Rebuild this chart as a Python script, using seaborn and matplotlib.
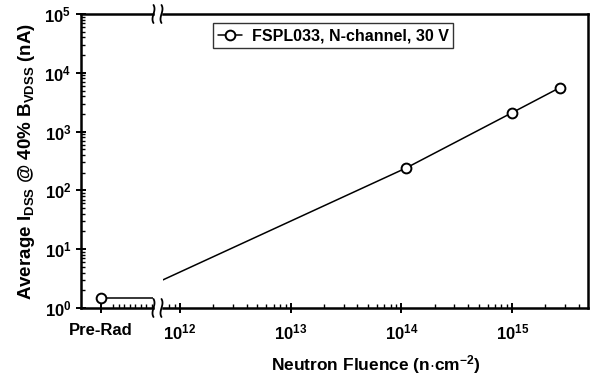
import numpy as np
import pandas as pd
import matplotlib
matplotlib.use("Agg")
import matplotlib.pyplot as plt
import matplotlib.ticker as mticker
import seaborn as sns

# data
pre_rad_value = 1.5
fluence = [7.0e11, 1.1e14, 1.0e15, 2.7e15]
idss = [3.0, 240, 2100, 5600]
measured = [False, True, True, True]
label = "FSPL033, N-channel, 30 V"

sns.set_style("ticks")
plt.rcParams["font.family"] = ["Liberation Sans", "DejaVu Sans"]
plt.rcParams["font.weight"] = "bold"
plt.rcParams["axes.labelweight"] = "bold"
plt.rcParams["text.color"] = "black"
plt.rcParams["axes.labelcolor"] = "black"
plt.rcParams["xtick.color"] = "black"
plt.rcParams["ytick.color"] = "black"
plt.rcParams["axes.edgecolor"] = "black"
plt.rcParams["mathtext.fontset"] = "custom"
plt.rcParams["mathtext.rm"] = "Liberation Sans:bold"
plt.rcParams["mathtext.it"] = "Liberation Sans:bold"
plt.rcParams["mathtext.bf"] = "Liberation Sans:bold"
plt.rcParams["mathtext.default"] = "bf"

df = pd.DataFrame({"fluence": fluence, "idss": idss, "measured": measured})
pts = df[df["measured"]]

fig = plt.figure(figsize=(5.92, 3.80), dpi=100)
ax0 = fig.add_axes([81 / 592, 1 - 308 / 380, 72 / 592, 294 / 380])
ax1 = fig.add_axes([163 / 592, 1 - 308 / 380, 425 / 592, 294 / 380])

# left panel: pre-rad
pre = pd.DataFrame({"x": [0, 0.52], "y": [pre_rad_value, pre_rad_value]})
sns.lineplot(data=pre, x="x", y="y", ax=ax0, color="black", lw=1.1)
ax0.plot([0], [pre_rad_value], "o", mfc="white", mec="black", mew=1.4, ms=7, zorder=3)
ax0.set_xlim(-0.2, 0.52)
ax0.set_yscale("log")
ax0.set_ylim(1, 1e5)
ax0.set_xticks([0])
ax0.set_xticklabels(["Pre-Rad"])
ax0.xaxis.set_minor_locator(mticker.FixedLocator(np.arange(0.12, 0.52, 0.055)))
ax0.spines["right"].set_visible(False)
ax0.set_ylabel(r"Average I$_{\rm DSS}$ @ 40% B$_{\rm VDSS}$ (nA)", fontsize=13.5,
               fontweight="bold", labelpad=5)
ax0.yaxis.set_major_locator(mticker.LogLocator(base=10, numticks=10))
ax0.yaxis.set_minor_locator(mticker.LogLocator(base=10, subs=np.arange(2, 10), numticks=10))
ax0.yaxis.set_minor_formatter(mticker.NullFormatter())

# right panel: fluence
sns.lineplot(data=df, x="fluence", y="idss", ax=ax1, color="black", lw=1.1)
sns.scatterplot(data=pts, x="fluence", y="idss", ax=ax1, marker="o", s=50,
                facecolor="white", edgecolor="black", linewidth=1.4, zorder=3)
ax1.set_xscale("log")
ax1.set_yscale("log")
ax1.set_xlim(7.03e11, 4.84e15)
ax1.set_ylim(1, 1e5)
ax1.xaxis.set_major_locator(mticker.LogLocator(base=10, numticks=10))
ax1.xaxis.set_minor_locator(mticker.LogLocator(base=10, subs=np.arange(2, 10), numticks=10))
ax1.xaxis.set_minor_formatter(mticker.NullFormatter())
ax1.spines["left"].set_visible(False)
ax1.set_yticks([])
ax1.tick_params(axis="y", which="both", left=False, labelleft=False)
ax1.set_xlabel("Neutron Fluence (n$\\cdot$cm$^{-2}$)", fontsize=12.5,
               fontweight="bold", labelpad=8)
ax1.set_ylabel("")
ax0.set_xlabel("")

for ax in (ax0, ax1):
    for s in ax.spines.values():
        s.set_linewidth(1.8)
    ax.tick_params(which="major", direction="inout", length=7, width=1.4, labelsize=12)
    ax.tick_params(which="minor", direction="in", length=3, width=1.0)
    ax.tick_params(axis="x", which="major", pad=7)

# legend
handle = plt.Line2D([], [], color="black", lw=1.1, marker="o", ms=7,
                    mfc="white", mec="black", mew=1.4)
leg = ax1.legend([handle], [label], loc="upper left", bbox_to_anchor=(0.1, 0.995),
                 frameon=True, fancybox=False, edgecolor="black", fontsize=11.5,
                 handlelength=1.5, borderpad=0.3, handletextpad=0.6)
leg.get_frame().set_linewidth(1.0)

# axis break squiggles
t = np.linspace(-1, 1, 30)
for yb in (0, 1):
    for xc in (153.5, 161.5):
        xs = (xc - 2.6 * (t ** 3 - t)) / 592
        ys = (1 - 308 / 380) + yb * 294 / 380 + t * 9 / 380
        fig.add_artist(plt.Line2D(xs, ys, color="black", lw=1.3))

fig.savefig("out.png", dpi=100)
